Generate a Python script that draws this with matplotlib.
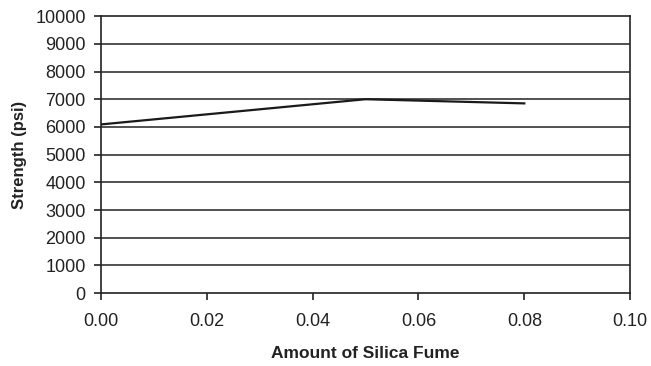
import matplotlib.pyplot as plt

silica = [0.00, 0.05, 0.08]
strength = [6090, 7000, 6850]
x_ticks = [0.00, 0.02, 0.04, 0.06, 0.08, 0.10]
y_ticks = list(range(0, 10001, 1000))

plt.rcParams['font.family'] = ['Liberation Sans', 'DejaVu Sans']

fig = plt.figure(figsize=(6.51, 3.66), dpi=100)
ax = fig.add_axes([0.155, 0.199, 0.813, 0.757])

for y in y_ticks[1:-1]:
    ax.axhline(y, color='#333333', lw=1.2, zorder=1)

ax.plot(silica, strength, color='#1a1a1a', lw=1.6, zorder=3)

ax.set_xlim(0, 0.10)
ax.set_ylim(0, 10000)
ax.set_xticks(x_ticks)
ax.set_xticklabels([f"{v:.2f}" for v in x_ticks])
ax.set_yticks(y_ticks)
ax.tick_params(axis='both', labelsize=13, length=5, width=1.2, color='#222222',
               labelcolor='#222222')
ax.tick_params(axis='x', pad=9)
ax.tick_params(axis='y', pad=6)

for s in ax.spines.values():
    s.set_linewidth(1.2)
    s.set_color('#222222')

ax.set_xlabel("Amount of Silica Fume", fontsize=12.5, fontweight='bold',
              labelpad=12, color='#222222')
ax.set_ylabel("Strength (psi)", fontsize=12, fontweight='bold',
              labelpad=6, color='#222222')

fig.savefig("out.png", dpi=100)
